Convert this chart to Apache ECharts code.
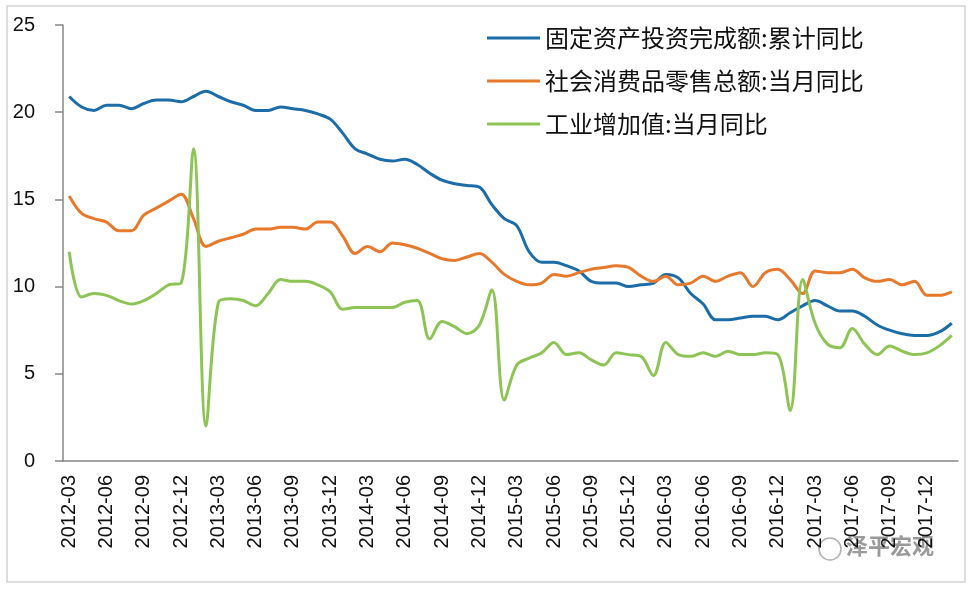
<!DOCTYPE html>
<html>
<head>
<meta charset="utf-8">
<script src="https://cdn.jsdelivr.net/npm/echarts@6/dist/echarts.min.js"></script>
<style>
  html, body { margin: 0; padding: 0; background: #fff; }
  #chart { width: 974px; height: 590px; }
</style>
</head>
<body>
<div id="chart"></div>
<script>
// monthly, 2012-03 .. 2018-02
var months = []
for (var k = 0; k < 72; k++) {
  var m = 2 + k
  var yy = 2012 + Math.floor(m / 12)
  var mm = (m % 12) + 1
  months.push(yy + '-' + (mm < 10 ? '0' + mm : mm))
}

var seriesNames = ['固定资产投资完成额:累计同比', '社会消费品零售总额:当月同比', '工业增加值:当月同比']

var faiYtd = [
  20.9, 20.3, 20.1, 20.4, 20.4, 20.2, 20.5, 20.7, 20.7, 20.6,
  20.9, 21.2, 20.9, 20.6, 20.4, 20.1, 20.1, 20.3, 20.2, 20.1, 19.9, 19.6,
  18.8, 17.9, 17.6, 17.3, 17.2, 17.3, 17.0, 16.5, 16.1, 15.9, 15.8, 15.7,
  14.7, 13.9, 13.5, 12.0, 11.4, 11.4, 11.2, 10.9, 10.3, 10.2, 10.2, 10.0,
  10.1, 10.2, 10.7, 10.5, 9.6, 9.0, 8.1, 8.1, 8.2, 8.3, 8.3, 8.1,
  8.5, 8.9, 9.2, 8.9, 8.6, 8.6, 8.3, 7.8, 7.5, 7.3, 7.2, 7.2,
  7.4, 7.9
]
var retailYoy = [
  15.2, 14.2, 13.9, 13.7, 13.2, 13.2, 14.1, 14.5, 14.9, 15.3,
  13.9, 12.3, 12.6, 12.8, 13.0, 13.3, 13.3, 13.4, 13.4, 13.3, 13.7, 13.7,
  12.9, 11.9, 12.3, 12.0, 12.5, 12.4, 12.2, 11.9, 11.6, 11.5, 11.7, 11.9,
  11.4, 10.7, 10.3, 10.1, 10.2, 10.7, 10.6, 10.8, 11.0, 11.1, 11.2, 11.1,
  10.6, 10.3, 10.6, 10.1, 10.2, 10.6, 10.3, 10.6, 10.8, 10.0, 10.8, 11.0,
  10.4, 9.6, 10.9, 10.8, 10.8, 11.0, 10.5, 10.3, 10.4, 10.1, 10.3, 9.5,
  9.5, 9.7
]
var ivaYoy = [
  12.0, 9.4, 9.6, 9.5, 9.2, 9.0, 9.2, 9.6, 10.1, 10.2,
  17.9, 2.0, 9.1, 9.3, 9.2, 8.9, 9.6, 10.4, 10.3, 10.3, 10.1, 9.7,
  8.7, 8.8, 8.8, 8.8, 8.8, 9.1, 9.2, 7.0, 8.0, 7.7, 7.3, 7.8,
  9.8, 3.5, 5.5, 5.9, 6.2, 6.8, 6.1, 6.2, 5.8, 5.5, 6.2, 6.1,
  6.0, 4.9, 6.8, 6.1, 6.0, 6.2, 6.0, 6.3, 6.1, 6.1, 6.2, 6.1,
  2.9, 10.4, 7.9, 6.7, 6.5, 7.6, 6.7, 6.1, 6.6, 6.3, 6.1, 6.2,
  6.6, 7.2
]

var colors = ['#1c6ca8', '#e6792c', '#8dc455']

var chart = echarts.init(document.getElementById('chart'))

function lineSeries(name, data, color) {
  return {
    name: name,
    type: 'line',
    data: data,
    smooth: 0.35,
    showSymbol: false,
    symbol: 'none',
    lineStyle: { color: color, width: 3 },
    itemStyle: { color: color },
    emphasis: { disabled: true }
  }
}

var option = {
  animation: false,
  backgroundColor: '#fff',
  grid: { left: 63, right: 16, top: 25, bottom: 129 },
  legend: {
    orient: 'vertical',
    left: 482,
    top: 21,
    icon: 'rect',
    itemWidth: 53,
    itemHeight: 3,
    itemGap: 19,
    textStyle: {
      fontFamily: 'Noto Sans CJK SC',
      fontSize: 24,
      lineHeight: 24,
      color: '#111'
    },
    data: seriesNames
  },
  xAxis: {
    type: 'category',
    data: months,
    boundaryGap: true,
    axisLine: { lineStyle: { color: '#868686', width: 1.5 } },
    axisTick: { length: 6, interval: 2, lineStyle: { color: '#868686', width: 1.5 } },
    axisLabel: {
      interval: 2,
      rotate: 90,
      margin: 14,
      color: '#111',
      fontFamily: 'Liberation Sans',
      fontSize: 20
    },
    splitLine: { show: false }
  },
  yAxis: {
    type: 'value',
    min: 0,
    max: 25,
    interval: 5,
    axisLine: { show: true, lineStyle: { color: '#868686', width: 1.5 } },
    axisTick: { show: true, length: 8, lineStyle: { color: '#868686', width: 1.5 } },
    axisLabel: {
      margin: 28,
      color: '#111',
      fontFamily: 'Liberation Sans',
      fontSize: 20
    },
    splitLine: { show: false }
  },
  graphic: [
    {
      type: 'rect',
      shape: { x: 7, y: 6, width: 958, height: 576 },
      style: { fill: 'none', stroke: '#d4d4d4', lineWidth: 1.5 },
      silent: true
    },
    {
      type: 'circle',
      shape: { cx: 830, cy: 549, r: 11 },
      style: { fill: 'none', stroke: '#b0b0b0', lineWidth: 1.5 },
      silent: true
    },
    {
      type: 'text',
      left: 846,
      top: 535,
      style: {
        text: '泽平宏观',
        fontFamily: 'Noto Sans CJK SC',
        fontWeight: 'bold',
        fontSize: 22,
        fill: '#9a9a9a'
      },
      silent: true
    }
  ],
  series: [
    lineSeries(seriesNames[0], faiYtd, colors[0]),
    lineSeries(seriesNames[1], retailYoy, colors[1]),
    lineSeries(seriesNames[2], ivaYoy, colors[2])
  ]
}

chart.setOption(option)
</script>
</body>
</html>
